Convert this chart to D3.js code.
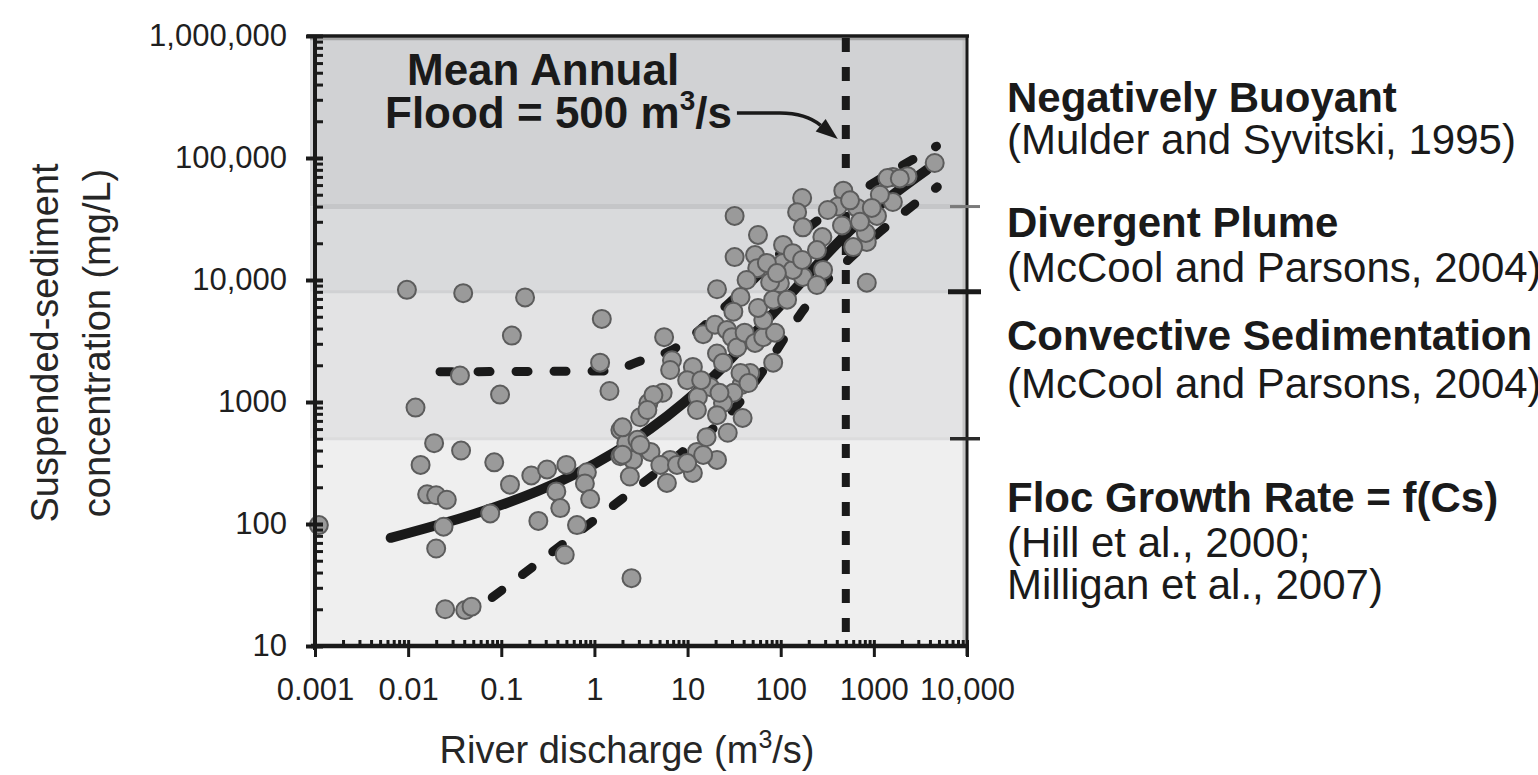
<!DOCTYPE html>
<html>
<head>
<meta charset="utf-8">
<script src="https://cdn.jsdelivr.net/npm/d3@7"></script>
<style>
  body { margin: 0; background: #fff; }
  svg { display: block; font-family: "Liberation Sans", Arial, sans-serif; }
</style>
</head>
<body>
<div id="chart"></div>
<script>
// values: [river discharge (m3/s), concentration (mg/L)]
const lowFlowPoints = [
  [0.0011, 98], [0.0097, 8300], [0.039, 7800], [0.18, 7200], [1.2, 4800], [0.13, 3500],
  [0.036, 1650], [1.15, 2100], [0.097, 1150], [1.45, 1230], [0.012, 900], [0.019, 460],
  [0.037, 400], [0.084, 320], [0.0136, 305], [0.21, 250], [0.31, 280], [0.5, 305],
  [0.83, 265], [0.79, 215], [0.9, 160], [0.124, 210], [0.39, 185], [0.43, 135],
  [0.016, 175], [0.02, 172], [0.026, 158], [0.024, 95], [0.02, 63], [0.076, 122],
  [0.25, 106], [0.65, 98], [0.48, 56], [2.5, 36], [0.025, 20], [0.041, 19.7], [0.048, 21],
  [5.6, 3400], [1.9, 360], [2.6, 335], [2.4, 245], [1.9, 590], [2.2, 460]
];

const midFlowPoints = [
  [14.7, 3600], [19.7, 4300], [26.5, 3900], [30, 3400], [20.7, 2500], [24, 2100],
  [34, 2800], [41, 3700], [53, 3050], [65, 3400], [87, 3700], [47, 1730], [38, 1380],
  [31, 1190], [24, 980], [17.4, 1330], [12.9, 1100], [12.6, 860], [20.7, 780], [27, 560],
  [39, 740], [6.8, 2200], [11.4, 1940], [9.9, 1510], [5.4, 1190], [3.8, 980], [3.1, 750],
  [2.0, 620], [2.9, 490], [4.0, 390], [2.0, 370], [3.1, 445], [6.5, 335], [12.6, 390],
  [16, 515], [20.7, 335], [5.1, 305], [7.7, 305], [83, 2100], [65, 4700], [6.5, 1830],
  [14, 1510], [22, 1190], [37, 1730], [45, 1430], [4.3, 1140], [3.7, 860], [6.0, 217],
  [11.4, 262], [14.7, 368], [9.9, 316]
];

const highFlowPoints = [
  [32, 33500], [57, 23400], [32, 15400], [53, 16000], [56, 12500], [43, 10000],
  [20.7, 8400], [37, 7250], [31, 5500], [57, 5900], [83, 6900], [170, 47000],
  [150, 36000], [173, 27000], [280, 22500], [106, 19400], [470, 54000], [410, 40000],
  [660, 39000], [455, 28000], [840, 20500], [1080, 33500], [1600, 43600], [1600, 70000],
  [2300, 71000], [4500, 91000], [840, 9500], [600, 18600], [285, 12100], [173, 10600],
  [245, 9100], [98, 9400], [106, 13800], [135, 12100], [71, 13800], [77, 9600],
  [117, 6900], [135, 16600], [170, 14600], [245, 17600], [91, 11400], [820, 24300],
  [1400, 68500], [1160, 50000], [950, 39000], [1900, 68000], [320, 37500], [555, 45000],
  [710, 30000]
];

// fitted curves
const solidFit = [[0.0065, 77], [9, 980], [18, 1560], [73, 4800], [650, 28500], [3700, 80000]];
const upperDashed = [[0.022, 1770], [1.5, 1800], [2.9, 2130], [7, 2700], [28, 6500], [200, 27000], [845, 57800], [4700, 125000]];
const lowerDashed = [[0.08, 25], [1.9, 157], [8.3, 375], [35, 960], [60, 1660], [160, 5160], [270, 8770], [500, 14000], [4800, 58000]];

const meanAnnualFlood = 500;

// concentration regimes (shaded bands)
const bandEdges = [1000000, 40000, 8000, 500, 10];
const bandColors = ["#d1d2d4", "#d9dadc", "#e3e3e4", "#efefef"];
const bandLineColors = ["#c5c6c8", "#d0d1d3", "#dcdcdd"];

const xTickValues = [0.001, 0.01, 0.1, 1, 10, 100, 1000, 10000];
const xTickLabels = ["0.001", "0.01", "0.1", "1", "10", "100", "1000", "10,000"];
const yTickValues = [10, 100, 1000, 10000, 100000, 1000000];
const yTickLabels = ["10", "100", "1000", "10,000", "100,000", "1,000,000"];

const regimeTitles = ["Negatively Buoyant", "Divergent Plume", "Convective Sedimentation", "Floc Growth Rate = f(Cs)"];
const regimeRefs = [
  ["(Mulder and Syvitski, 1995)"],
  ["(McCool and Parsons, 2004)"],
  ["(McCool and Parsons, 2004)"],
  ["(Hill et al., 2000;", "Milligan et al., 2007)"]
];

// layout
const width = 1538;
const height = 775;
const plotLeft = 315, plotRight = 967, plotTop = 36, plotBottom = 646;
const ink = "#1a1a1a";

const svg = d3.select("#chart").append("svg")
    .attr("width", width)
    .attr("height", height);

const x = d3.scaleLog().domain([0.001, 10000]).range([plotLeft, plotRight]);
const y = d3.scaleLog().domain([10, 1000000]).range([plotBottom, plotTop]);

// bands
for (let i = 0; i < bandColors.length; i++) {
    svg.append("rect")
        .attr("x", plotLeft - 5)
        .attr("y", y(bandEdges[i]))
        .attr("width", plotRight - plotLeft + 5)
        .attr("height", y(bandEdges[i + 1]) - y(bandEdges[i]))
        .attr("fill", bandColors[i]);
}
bandLineColors.forEach((c, i) => {
    svg.append("line")
        .attr("x1", plotLeft).attr("x2", plotRight)
        .attr("y1", y(bandEdges[i + 1])).attr("y2", y(bandEdges[i + 1]))
        .attr("stroke", c)
        .attr("stroke-width", i == 0 ? 5 : 3);
});

// light edge strips
svg.append("line")
    .attr("x1", plotRight - 3).attr("x2", plotRight - 3)
    .attr("y1", plotTop).attr("y2", plotBottom)
    .attr("stroke", "#c4c4c4").attr("stroke-width", 3);
svg.append("line")
    .attr("x1", plotLeft - 5).attr("x2", plotRight)
    .attr("y1", plotTop + 3).attr("y2", plotTop + 3)
    .attr("stroke", "#a3a3a3").attr("stroke-width", 2.5);

// mean annual flood line
svg.append("line")
    .attr("x1", x(meanAnnualFlood)).attr("x2", x(meanAnnualFlood))
    .attr("y1", plotTop + 2).attr("y2", plotBottom)
    .attr("stroke", ink)
    .attr("stroke-width", 8)
    .attr("stroke-dasharray", "14,15");

// fitted lines
const lineGen = d3.line()
    .x(d => x(d[0]))
    .y(d => y(d[1]))
    .curve(d3.curveMonotoneX);

svg.append("path")
    .attr("d", lineGen(solidFit))
    .attr("fill", "none")
    .attr("stroke", ink)
    .attr("stroke-width", 10)
    .attr("stroke-linecap", "round");

[upperDashed, lowerDashed].forEach(line => {
    svg.append("path")
        .attr("d", lineGen(line))
        .attr("fill", "none")
        .attr("stroke", ink)
        .attr("stroke-width", 9)
        .attr("stroke-linecap", "round")
        .attr("stroke-dasharray", "12,26");
});

// data points
const allPoints = lowFlowPoints.concat(midFlowPoints, highFlowPoints);
svg.append("g")
    .selectAll("circle")
    .data(allPoints)
    .enter().append("circle")
        .attr("cx", d => x(d[0]))
        .attr("cy", d => y(d[1]))
        .attr("r", 9)
        .attr("fill", "#9a9a9a")
        .attr("stroke", "#5c5c5c")
        .attr("stroke-width", 2);

// frame
svg.append("line")
    .attr("x1", plotLeft - 8).attr("x2", plotRight + 2)
    .attr("y1", plotTop).attr("y2", plotTop)
    .attr("stroke", ink).attr("stroke-width", 3.5);
svg.append("line")
    .attr("x1", plotRight).attr("x2", plotRight)
    .attr("y1", plotTop).attr("y2", plotBottom + 10)
    .attr("stroke", ink).attr("stroke-width", 3);
svg.append("line")
    .attr("x1", plotLeft).attr("x2", plotLeft)
    .attr("y1", plotTop).attr("y2", plotBottom + 4)
    .attr("stroke", ink).attr("stroke-width", 4);
svg.append("line")
    .attr("x1", plotLeft - 4).attr("x2", plotRight + 2)
    .attr("y1", plotBottom).attr("y2", plotBottom)
    .attr("stroke", ink).attr("stroke-width", 4.5);

// minor ticks
const xMinor = [], yMinor = [];
for (let p = -3; p < 4; p++) for (let m = 2; m < 10; m++) xMinor.push(m * Math.pow(10, p));
for (let p = 1; p < 6; p++) for (let m = 2; m < 10; m++) yMinor.push(m * Math.pow(10, p));

const xMinorG = svg.append("g")
    .attr("transform", `translate(0,${plotBottom})`)
    .call(d3.axisBottom(x).tickValues(xMinor).tickFormat("").tickSize(-6));
xMinorG.select(".domain").remove();
xMinorG.selectAll(".tick line").attr("stroke", ink).attr("stroke-width", 3);

const yMinorG = svg.append("g")
    .attr("transform", `translate(${plotLeft},0)`)
    .call(d3.axisLeft(y).tickValues(yMinor).tickFormat("").tickSize(-8));
yMinorG.select(".domain").remove();
yMinorG.selectAll(".tick line").attr("stroke", ink).attr("stroke-width", 3);

// major ticks + labels
const xAxisG = svg.append("g")
    .attr("transform", `translate(0,${plotBottom})`)
    .call(d3.axisBottom(x).tickValues(xTickValues).tickFormat((d, i) => xTickLabels[i]).tickSize(11));
xAxisG.select(".domain").remove();
xAxisG.attr("font-size", null).attr("font-family", null);
xAxisG.selectAll(".tick line").attr("y1", -6).attr("stroke", ink).attr("stroke-width", 3);
xAxisG.selectAll(".tick text")
    .attr("y", 54).attr("dy", null)
    .attr("font-size", 31)
    .attr("fill", "#1f1f1f");

const yAxisG = svg.append("g")
    .attr("transform", `translate(${plotLeft},0)`)
    .call(d3.axisLeft(y).tickValues(yTickValues).tickFormat((d, i) => yTickLabels[i]).tickSize(9));
yAxisG.select(".domain").remove();
yAxisG.attr("font-size", null).attr("font-family", null);
yAxisG.selectAll(".tick line").attr("x1", 8).attr("stroke", ink).attr("stroke-width", 4);
yAxisG.selectAll(".tick text")
    .attr("x", -28)
    .attr("font-size", 31)
    .attr("fill", "#1f1f1f");

// regime boundary ticks on the right
[[40000, "#7a7a7a", 3, 950, 980], [8000, ink, 5, 948, 981], [500, "#2a2a2a", 3.5, 950, 980]].forEach(t => {
    svg.append("line")
        .attr("x1", t[3]).attr("x2", t[4])
        .attr("y1", y(t[0])).attr("y2", y(t[0]))
        .attr("stroke", t[1]).attr("stroke-width", t[2]);
});

// axis titles
const yTitle = ["Suspended-sediment", "concentration (mg/L)"];
yTitle.forEach((t, i) => {
    svg.append("text")
        .attr("transform", `translate(${58 + i * 52},343) rotate(-90)`)
        .attr("text-anchor", "middle")
        .attr("font-size", 38)
        .attr("fill", "#262626")
        .text(t);
});

const xTitle = svg.append("text")
    .attr("x", 627).attr("y", 763)
    .attr("text-anchor", "middle")
    .attr("font-size", 38)
    .attr("fill", "#262626");
xTitle.append("tspan").text("River discharge (m");
xTitle.append("tspan").attr("font-size", 25).attr("dy", -15).text("3");
xTitle.append("tspan").attr("dy", 15).text("/s)");

// mean annual flood annotation
svg.append("text")
    .attr("x", 407).attr("y", 85)
    .attr("font-size", 44).attr("font-weight", "bold")
    .attr("fill", ink)
    .text("Mean Annual");
const flood = svg.append("text")
    .attr("x", 385).attr("y", 128)
    .attr("font-size", 44).attr("font-weight", "bold")
    .attr("fill", ink);
flood.append("tspan").text("Flood = 500 m");
flood.append("tspan").attr("font-size", 28).attr("dy", -18).text("3");
flood.append("tspan").attr("dy", 18).text("/s");

const textEnd = 385 + flood.node().getComputedTextLength();
const tipX = x(meanAnnualFlood) - 8, tipY = 139;
const dir = [0.78, 0.62];
const base = [tipX - 22 * dir[0], tipY - 22 * dir[1]];
svg.append("path")
    .attr("d", `M${textEnd + 5},113 L${tipX - 58},113 Q${tipX - 32},113 ${base[0]},${base[1]}`)
    .attr("fill", "none")
    .attr("stroke", ink)
    .attr("stroke-width", 3.5);
svg.append("path")
    .attr("d", `M${tipX},${tipY} L${base[0] - 8 * dir[1]},${base[1] + 8 * dir[0]} L${base[0] + 8 * dir[1]},${base[1] - 8 * dir[0]} Z`)
    .attr("fill", ink);

// regime labels on the right
const regimeBaselines = [[112, 154], [237, 282], [350, 398], [512, 557, 599]];
regimeTitles.forEach((t, i) => {
    svg.append("text")
        .attr("x", 1007).attr("y", regimeBaselines[i][0])
        .attr("font-size", 42).attr("font-weight", "bold")
        .attr("fill", ink)
        .text(t);
    regimeRefs[i].forEach((r, j) => {
        svg.append("text")
            .attr("x", 1007).attr("y", regimeBaselines[i][j + 1])
            .attr("font-size", 42)
            .attr("fill", ink)
            .text(r);
    });
});
</script>
</body>
</html>
